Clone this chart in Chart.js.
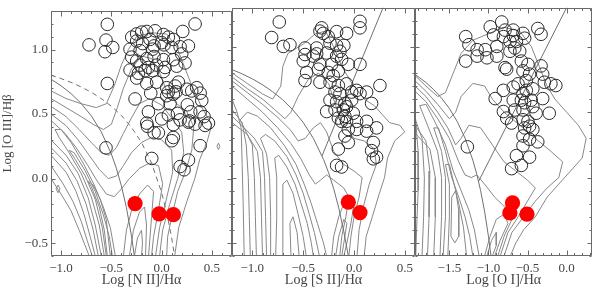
<!DOCTYPE html>
<html><head><meta charset="utf-8">
<script src="https://cdn.jsdelivr.net/npm/chart.js@4"></script>
<style>
html,body{margin:0;padding:0;background:#fff;}
#wrap{position:relative;width:600px;height:289px;overflow:hidden;}
canvas{position:absolute;left:0;top:0;}
</style></head><body>
<div id="wrap">
<canvas id="c1" width="600" height="289"></canvas>
<canvas id="c2" width="600" height="289"></canvas>
<canvas id="c3" width="600" height="289"></canvas>
</div>
<script>
// ---------- axis ranges / labels ----------
const yRange = [-0.6, 1.3];
const niiRange = [-1.1, 0.7];
const siiRange = [-1.2, 0.6];
const oiRange = [-1.94, 0.33];
const yTitle = 'Log [O III]/Hβ';
const xTitles = ['Log [N II]/Hα', 'Log [S II]/Hα', 'Log [O I]/Hα'];

// ---------- red filled points ----------
const niiRed = [[-0.264,-0.194],[-0.025,-0.273],[0.117,-0.28]];
const siiRed = [[-0.056,-0.188],[0.059,-0.268]];
const oiRed = [[-0.692,-0.194],[-0.726,-0.271],[-0.507,-0.28]];

// ---------- open circles ----------
const niiOpen = [[-0.54,1.195],[0.333,1.198],[-0.722,1.036],[-0.553,1.073],[-0.563,0.983],[-0.486,1.016],[0.21,1.14],[-0.297,1.096],[-0.248,1.121],[-0.198,1.135],[-0.148,1.14],[-0.065,1.145],[0.018,1.116],[0.067,1.096],[0.117,1.078],[-0.248,1.066],[-0.188,1.046],[-0.115,1.078],[-0.075,1.028],[0.001,1.053],[-0.314,1.003],[-0.214,0.991],[-0.088,1.003],[0.024,1.036],[0.101,1.016],[0.184,1.021],[0.267,1.028],[-0.297,0.941],[-0.248,0.911],[-0.148,0.929],[-0.075,0.946],[0.018,0.921],[0.117,0.921],[0.2,0.966],[-0.314,0.841],[-0.214,0.879],[-0.131,0.861],[-0.049,0.879],[0.034,0.861],[0.15,0.871],[0.233,0.896],[-0.231,0.816],[-0.165,0.836],[-0.088,0.836],[0.018,0.829],[-0.248,0.779],[-0.148,0.737],[-0.049,0.747],[0.051,0.704],[0.134,0.717],[0.167,0.747],[0.067,0.672],[0.144,0.672],[-0.54,0.737],[-0.264,0.617],[-0.108,0.662],[0.051,0.642],[0.117,0.654],[0.25,0.692],[0.349,0.704],[0.383,0.662],[0.399,0.604],[-0.131,0.517],[-0.032,0.58],[0.084,0.58],[0.157,0.505],[0.256,0.572],[0.29,0.517],[0.383,0.517],[0.333,0.422],[0.276,0.447],[0.422,0.48],[-0.148,0.43],[-0.141,0.405],[-0.075,0.355],[0.001,0.462],[0.117,0.418],[0.184,0.455],[0.267,0.437],[0.432,0.412],[0.466,0.43],[-0.553,0.238],[-0.098,0.156],[0.117,0.318],[0.101,0.293],[0.383,0.255],[0.267,0.143],[0.184,0.093],[0.223,0.068],[-0.032,0.355],[0.067,0.492],[0.3,0.679]];
const siiOpen = [[-0.735,1.19],[0.059,1.195],[0.059,1.145],[-0.81,1.071],[-0.695,1.003],[-0.63,1.016],[-0.318,1.145],[-0.335,1.12],[-0.302,1.103],[-0.253,1.078],[-0.171,1.116],[-0.073,1.103],[-0.236,1.028],[-0.171,1.011],[-0.1,1.011],[-0.482,0.991],[-0.367,0.991],[-0.482,0.941],[-0.367,0.946],[-0.269,0.953],[-0.171,0.929],[-0.122,0.904],[-0.499,0.891],[-0.335,0.866],[-0.22,0.866],[-0.154,0.816],[-0.056,0.866],[0.059,0.866],[-0.466,0.804],[-0.351,0.829],[-0.253,0.804],[-0.204,0.779],[-0.335,0.729],[-0.482,0.742],[-0.236,0.729],[-0.154,0.704],[-0.073,0.717],[0.026,0.667],[0.124,0.654],[-0.187,0.654],[-0.236,0.592],[-0.171,0.58],[-0.089,0.567],[-0.023,0.592],[0.059,0.642],[0.173,0.567],[0.255,0.704],[-0.269,0.505],[-0.187,0.517],[-0.105,0.517],[-0.073,0.542],[-0.089,0.467],[-0.122,0.43],[-0.073,0.43],[0.026,0.43],[0.124,0.43],[-0.056,0.368],[0.026,0.368],[0.124,0.355],[-0.089,0.318],[0.222,0.38],[-0.056,0.268],[0.19,0.268],[-0.154,0.218],[0.173,0.206],[0.222,0.156],[0.19,0.143],[-0.171,0.093],[-0.122,0.081],[-0.4,0.929],[-0.138,0.966],[-0.023,0.654],[-0.138,0.642],[-0.007,0.492],[-0.154,0.455]];
const oiOpen = [[-0.83,1.19],[-0.369,1.14],[-0.327,1.096],[-0.977,1.153],[-0.935,1.091],[-0.788,1.128],[-0.683,1.128],[-0.558,1.103],[-0.683,1.086],[-0.809,1.078],[-0.725,1.041],[-0.642,1.041],[-0.537,1.066],[-1.291,1.078],[-1.25,1.016],[-1.145,0.978],[-1.04,0.978],[-1.145,0.929],[-1.019,0.916],[-0.893,0.929],[-1.291,0.891],[-0.725,0.966],[-0.6,0.966],[-0.579,0.891],[-0.495,0.866],[-0.558,0.816],[-0.474,0.791],[-0.788,0.841],[-0.767,0.829],[-0.327,0.854],[-0.306,0.791],[-0.285,0.729],[-0.201,0.717],[-0.138,0.704],[-0.516,0.742],[-0.432,0.679],[-0.683,0.692],[-0.558,0.642],[-0.809,0.667],[-0.914,0.604],[-0.683,0.592],[-0.579,0.592],[-0.537,0.572],[-0.453,0.592],[-0.306,0.604],[-0.809,0.505],[-0.663,0.517],[-0.558,0.517],[-0.432,0.542],[-0.767,0.455],[-0.558,0.442],[-0.495,0.43],[-0.474,0.393],[-0.537,0.38],[-0.432,0.368],[-0.558,0.318],[-0.474,0.293],[-0.369,0.273],[-1.27,0.235],[-0.558,0.243],[-0.642,0.168],[-0.474,0.156],[-0.704,0.068],[-0.579,0.093],[-0.39,0.492],[-0.222,0.492],[-0.893,1.003],[-0.663,0.991],[-0.621,0.717],[-0.516,0.667],[-0.704,0.417]];

// ---------- demarcation lines ----------
const niiKauffmann = [[-1.1,0.77],[-1.0,0.719],[-0.9,0.658],[-0.8,0.582],[-0.7,0.487],[-0.6,0.362],[-0.5,0.191],[-0.45,0.08],[-0.4,-0.056],[-0.35,-0.225],[-0.3,-0.443],[-0.271,-0.6]];
const niiKewley = [[-1.1,0.801],[-1.0,0.775],[-0.9,0.745],[-0.8,0.71],[-0.7,0.669],[-0.6,0.62],[-0.5,0.561],[-0.4,0.489],[-0.3,0.398],[-0.2,0.28],[-0.1,0.12],[0.0,-0.108],[0.05,-0.262],[0.1,-0.459],[0.129,-0.6]];
const siiKewley = [[-1.2,0.826],[-1.1,0.793],[-1.0,0.755],[-0.9,0.71],[-0.8,0.657],[-0.7,0.594],[-0.6,0.517],[-0.5,0.422],[-0.4,0.3],[-0.3,0.139],[-0.25,0.037],[-0.2,-0.085],[-0.15,-0.232],[-0.1,-0.414],[-0.056,-0.6]];
const siiSeyLin = [[-0.315,0.165],[0.286,1.3]];
const oiKewley = [[-1.94,0.789],[-1.8,0.727],[-1.7,0.672],[-1.6,0.607],[-1.5,0.528],[-1.4,0.429],[-1.3,0.302],[-1.2,0.133],[-1.15,0.026],[-1.1,-0.101],[-1.05,-0.257],[-1.0,-0.45],[-0.968,-0.6]];
const oiSeyLin = [[-1.127,-0.03],[0.0,1.3]];

// ---------- density contours (traced by eye) ----------
const niiContours = [
 [[-1.1,0.0],[-1.0,-0.12],[-0.9,-0.25],[-0.82,-0.4],[-0.76,-0.52],[-0.72,-0.6]],
 [[-1.1,0.68],[-0.95,0.62],[-0.8,0.58],[-0.65,0.55],[-0.55,0.58],[-0.47,0.72],[-0.4,0.88],[-0.33,1.0],[-0.25,1.1],[-0.1,1.13],[0.05,1.12],[0.15,1.02],[0.22,0.88],[0.3,0.72],[0.4,0.55],[0.5,0.42],[0.45,0.28],[0.38,0.15],[0.33,0.0],[0.25,-0.18],[0.17,-0.38],[0.13,-0.6]],
 [[-1.1,0.1],[-0.98,-0.04],[-0.88,-0.18],[-0.8,-0.33],[-0.74,-0.48],[-0.69,-0.6]],
 [[-1.1,0.62],[-0.95,0.55],[-0.8,0.48],[-0.68,0.42],[-0.58,0.38],[-0.5,0.42],[-0.44,0.55],[-0.38,0.7],[-0.3,0.85],[-0.2,0.95],[-0.1,0.93],[-0.02,0.82],[0.05,0.68],[0.15,0.58],[0.25,0.52],[0.32,0.4],[0.3,0.22],[0.24,0.06],[0.16,-0.1],[0.1,-0.3],[0.06,-0.45],[0.05,-0.6]],
 [[-1.1,0.18],[-0.95,0.05],[-0.85,-0.1],[-0.77,-0.28],[-0.71,-0.45],[-0.66,-0.6]],
 [[-1.1,0.56],[-0.95,0.48],[-0.82,0.38],[-0.7,0.28],[-0.6,0.2],[-0.52,0.18],[-0.45,0.24],[-0.38,0.35],[-0.3,0.47],[-0.22,0.58],[-0.12,0.62],[0.0,0.57],[0.1,0.47],[0.2,0.36],[0.22,0.2],[0.16,0.0],[0.08,-0.2],[0.01,-0.4],[-0.02,-0.6]],
 [[-1.1,0.24],[-0.95,0.12],[-0.84,-0.02],[-0.75,-0.2],[-0.68,-0.4],[-0.63,-0.6]],
 [[-1.1,0.5],[-0.95,0.41],[-0.83,0.3],[-0.72,0.18],[-0.62,0.07],[-0.53,0.0],[-0.45,0.02],[-0.38,0.1],[-0.3,0.2],[-0.2,0.28],[-0.1,0.32],[0.0,0.3],[0.1,0.22],[0.11,0.05],[0.05,-0.15],[-0.02,-0.38],[-0.06,-0.6]],
 [[-1.1,0.3],[-0.95,0.18],[-0.83,0.04],[-0.73,-0.15],[-0.66,-0.36],[-0.6,-0.6]],
 [[-1.1,0.45],[-0.96,0.35],[-0.85,0.24],[-0.74,0.11],[-0.64,-0.02],[-0.55,-0.12],[-0.47,-0.14],[-0.4,-0.08],[-0.32,0.0],[-0.22,0.08],[-0.12,0.12],[-0.03,0.1],[0.01,-0.04],[-0.03,-0.24],[-0.08,-0.45],[-0.1,-0.6]],
 [[-0.57,-0.6],[-0.62,-0.36],[-0.7,-0.14],[-0.8,0.04],[-0.92,0.2],[-1.02,0.32],[-1.06,0.38],[-1.0,0.38],[-0.9,0.28],[-0.78,0.12],[-0.67,-0.05],[-0.58,-0.22],[-0.51,-0.38],[-0.46,-0.6]],
 [[-0.38,-0.6],[-0.35,-0.4],[-0.3,-0.25],[-0.22,-0.12],[-0.14,-0.05],[-0.08,-0.1],[-0.1,-0.3],[-0.13,-0.6]],
 [[-0.55,-0.6],[-0.59,-0.38],[-0.66,-0.16],[-0.76,0.02],[-0.86,0.15],[-0.92,0.22],[-0.87,0.2],[-0.76,0.06],[-0.66,-0.1],[-0.58,-0.28],[-0.52,-0.45],[-0.49,-0.6]],
 [[-0.32,-0.6],[-0.28,-0.4],[-0.22,-0.26],[-0.17,-0.22],[-0.15,-0.36],[-0.16,-0.6]],
 [[-0.54,-0.6],[-0.57,-0.4],[-0.62,-0.22],[-0.7,-0.06],[-0.73,-0.02],[-0.68,-0.05],[-0.61,-0.16],[-0.55,-0.32],[-0.51,-0.6]],
 [[-0.27,-0.6],[-0.24,-0.46],[-0.2,-0.4],[-0.19,-0.5],[-0.2,-0.6]],
 [[-1.05,-0.08],[-1.03,-0.05],[-1.01,-0.08],[-1.03,-0.11],[-1.05,-0.08]],
 [[0.55,0.25],[0.565,0.275],[0.58,0.25],[0.565,0.225],[0.55,0.25]]
];
const siiContours = [
 [[-1.2,0.6],[-1.15,0.5],[-1.11,0.38],[-1.1,0.1],[-1.09,-0.2],[-1.08,-0.6]],
 [[-1.2,0.8],[-1.05,0.72],[-0.9,0.64],[-0.8,0.6],[-0.72,0.7],[-0.7,0.85],[-0.65,0.95],[-0.5,1.02],[-0.38,1.1],[-0.28,1.12],[-0.2,1.0],[-0.12,0.85],[-0.02,0.72],[0.1,0.6],[0.2,0.55],[0.28,0.48],[0.35,0.42],[0.45,0.4],[0.5,0.35],[0.4,0.28],[0.33,0.15],[0.3,0.0],[0.25,-0.12],[0.18,-0.3],[0.12,-0.45],[0.1,-0.6]],
 [[-1.2,0.52],[-1.1,0.42],[-1.06,0.25],[-1.04,0.0],[-1.03,-0.3],[-1.02,-0.6]],
 [[-1.2,0.77],[-1.05,0.68],[-0.9,0.6],[-0.78,0.52],[-0.68,0.45],[-0.62,0.5],[-0.55,0.62],[-0.45,0.75],[-0.35,0.8],[-0.25,0.72],[-0.18,0.55],[-0.1,0.4],[0.0,0.3],[0.1,0.28],[0.2,0.22],[0.22,0.1],[0.15,-0.05],[0.1,-0.2],[0.05,-0.4],[0.03,-0.6]],
 [[-1.2,0.47],[-1.08,0.38],[-1.0,0.25],[-0.98,0.0],[-0.97,-0.3],[-0.96,-0.6]],
 [[-1.2,0.74],[-1.05,0.65],[-0.9,0.56],[-0.75,0.46],[-0.62,0.36],[-0.55,0.28],[-0.48,0.3],[-0.4,0.38],[-0.33,0.42],[-0.27,0.35],[-0.2,0.2],[-0.1,0.1],[0.0,0.05],[0.08,0.0],[0.05,-0.15],[0.0,-0.3],[-0.03,-0.45],[-0.05,-0.6]],
 [[-1.2,0.42],[-1.05,0.33],[-0.95,0.2],[-0.92,0.0],[-0.91,-0.3],[-0.9,-0.6]],
 [[-1.2,0.7],[-1.05,0.6],[-0.9,0.5],[-0.75,0.38],[-0.62,0.26],[-0.52,0.14],[-0.44,0.02],[-0.38,-0.05],[-0.33,-0.02],[-0.27,0.02],[-0.2,-0.02],[-0.1,-0.08],[-0.05,-0.15],[-0.08,-0.3],[-0.12,-0.45],[-0.14,-0.6]],
 [[-0.86,-0.6],[-0.87,-0.3],[-0.88,0.0],[-0.9,0.2],[-0.98,0.3],[-1.08,0.38],[-1.12,0.44],[-1.05,0.5],[-0.95,0.47],[-0.82,0.38],[-0.68,0.24],[-0.57,0.1],[-0.49,-0.05],[-0.42,-0.2],[-0.36,-0.35],[-0.3,-0.5],[-0.27,-0.6]],
 [[-0.22,-0.6],[-0.2,-0.45],[-0.15,-0.3],[-0.1,-0.2],[-0.05,-0.15],[0.0,-0.2],[-0.03,-0.35],[-0.07,-0.5],[-0.1,-0.6]],
 [[-0.82,-0.6],[-0.82,-0.3],[-0.83,0.0],[-0.86,0.18],[-0.92,0.3],[-0.87,0.33],[-0.78,0.28],[-0.66,0.16],[-0.57,0.02],[-0.5,-0.12],[-0.44,-0.28],[-0.39,-0.42],[-0.34,-0.6]],
 [[-0.18,-0.6],[-0.15,-0.45],[-0.1,-0.32],[-0.07,-0.35],[-0.1,-0.5],[-0.12,-0.6]],
 [[-0.77,-0.6],[-0.76,-0.3],[-0.76,0.0],[-0.78,0.15],[-0.74,0.17],[-0.66,0.08],[-0.58,-0.05],[-0.52,-0.2],[-0.46,-0.35],[-0.42,-0.5],[-0.4,-0.6]],
 [[-0.7,-0.6],[-0.7,-0.3],[-0.7,-0.05],[-0.66,-0.02],[-0.6,-0.12],[-0.55,-0.28],[-0.5,-0.45],[-0.47,-0.6]],
 [[-0.62,-0.6],[-0.63,-0.35],[-0.6,-0.3],[-0.56,-0.42],[-0.54,-0.6]]
];
const oiContours = [
 [[-1.94,0.5],[-1.9,0.2],[-1.9,-0.1],[-1.92,-0.4],[-1.93,-0.6]],
 [[-1.94,0.78],[-1.8,0.7],[-1.65,0.62],[-1.55,0.65],[-1.45,0.8],[-1.35,0.95],[-1.2,1.05],[-1.0,1.1],[-0.8,1.15],[-0.6,1.12],[-0.45,1.0],[-0.35,0.85],[-0.25,0.7],[-0.15,0.6],[0.0,0.5],[0.15,0.4],[0.25,0.3],[0.2,0.15],[0.05,0.05],[-0.1,-0.05],[-0.25,-0.15],[-0.4,-0.3],[-0.55,-0.4],[-0.65,-0.5],[-0.72,-0.6]],
 [[-1.94,0.45],[-1.85,0.3],[-1.82,0.0],[-1.83,-0.3],[-1.85,-0.6]],
 [[-1.94,0.74],[-1.8,0.66],[-1.65,0.56],[-1.5,0.45],[-1.42,0.5],[-1.35,0.62],[-1.2,0.72],[-1.05,0.7],[-0.95,0.6],[-0.8,0.5],[-0.6,0.4],[-0.4,0.3],[-0.2,0.2],[-0.05,0.12],[-0.1,0.0],[-0.25,-0.08],[-0.4,-0.18],[-0.55,-0.3],[-0.7,-0.42],[-0.8,-0.6]],
 [[-1.94,0.4],[-1.8,0.28],[-1.75,0.05],[-1.76,-0.3],[-1.78,-0.6]],
 [[-1.94,0.7],[-1.8,0.62],[-1.65,0.5],[-1.52,0.38],[-1.42,0.25],[-1.35,0.3],[-1.25,0.4],[-1.1,0.38],[-0.95,0.25],[-0.8,0.12],[-0.65,0.05],[-0.5,-0.02],[-0.4,-0.08],[-0.5,-0.18],[-0.62,-0.3],[-0.75,-0.42],[-0.85,-0.6]],
 [[-1.94,0.34],[-1.75,0.22],[-1.68,0.0],[-1.68,-0.3],[-1.7,-0.6]],
 [[-1.94,0.66],[-1.8,0.58],[-1.65,0.45],[-1.5,0.3],[-1.38,0.12],[-1.3,0.02],[-1.22,0.0],[-1.15,0.02],[-1.05,-0.05],[-0.92,-0.15],[-0.8,-0.22],[-0.7,-0.2],[-0.62,-0.2],[-0.7,-0.32],[-0.8,-0.45],[-0.88,-0.6]],
 [[-1.62,-0.6],[-1.6,-0.3],[-1.6,0.0],[-1.65,0.2],[-1.78,0.4],[-1.88,0.55],[-1.8,0.56],[-1.68,0.42],[-1.55,0.25],[-1.45,0.05],[-1.35,-0.1],[-1.25,-0.25],[-1.18,-0.4],[-1.12,-0.6]],
 [[-1.05,-0.6],[-0.98,-0.45],[-0.9,-0.32],[-0.8,-0.28],[-0.75,-0.35],[-0.85,-0.48],[-0.92,-0.6]],
 [[-1.58,-0.6],[-1.55,-0.3],[-1.55,0.0],[-1.6,0.2],[-1.7,0.38],[-1.64,0.38],[-1.55,0.2],[-1.47,0.0],[-1.38,-0.15],[-1.3,-0.3],[-1.24,-0.45],[-1.2,-0.6]],
 [[-1.02,-0.6],[-0.96,-0.48],[-0.9,-0.42],[-0.9,-0.52],[-0.95,-0.6]],
 [[-1.52,-0.6],[-1.5,-0.3],[-1.5,-0.05],[-1.55,0.1],[-1.5,0.1],[-1.44,-0.05],[-1.38,-0.2],[-1.32,-0.38],[-1.28,-0.6]],
 [[-1.48,-0.45],[-1.47,-0.15],[-1.42,-0.1],[-1.38,-0.25],[-1.38,-0.45],[-1.43,-0.5],[-1.48,-0.45]]
];

// ---------- helpers ----------
const SERIF = '"Liberation Serif","DejaVu Serif","Times New Roman",serif';
const TXT = '#444';
const toXY = pts => pts.map(p => ({x: p[0], y: p[1]}));
const fmt = v => (v < -1e-9 ? '\u2212' : '') + Math.abs(v).toFixed(1);

function lineSet(pts, extra) {
  return Object.assign({data: toXY(pts), showLine: true, pointRadius: 0, borderColor: '#888',
    backgroundColor: 'transparent', borderWidth: 1, tension: 0, fill: false, order: 3}, extra || {});
}

const idlFrame = {
  id: 'idlFrame',
  afterDatasetsDraw(chart) {
    const {ctx, chartArea: a, scales: {x, y}} = chart;
    const L = Math.round(a.left) + 0.5, R = Math.round(a.right) - 0.5;
    const T = Math.round(a.top) + 0.5, B = Math.round(a.bottom) - 0.5;
    ctx.save();
    ctx.strokeStyle = '#6a6a6a';
    ctx.lineWidth = 1;
    ctx.beginPath();
    ctx.rect(L, T, R - L, B - T);
    const k0 = Math.ceil(x.min * 10 - 1e-6), k1 = Math.floor(x.max * 10 + 1e-6);
    for (let k = k0; k <= k1; k++) {
      const len = (k % 5 === 0) ? 5 : 2.5;
      const px = Math.round(x.getPixelForValue(k / 10)) + 0.5;
      ctx.moveTo(px, B); ctx.lineTo(px, B - len);
      ctx.moveTo(px, T); ctx.lineTo(px, T + len);
    }
    const j0 = Math.ceil(y.min * 10 - 1e-6), j1 = Math.floor(y.max * 10 + 1e-6);
    for (let j = j0; j <= j1; j++) {
      const len = (j % 5 === 0) ? 4 : 2;
      const py = Math.round(y.getPixelForValue(j / 10)) + 0.5;
      ctx.moveTo(L, py); ctx.lineTo(L + len, py);
      ctx.moveTo(R, py); ctx.lineTo(R - len, py);
    }
    ctx.stroke();
    ctx.restore();
  }
};

function makePanel(id, p) {
  const datasets = [
    {data: toXY(p.red), pointRadius: 7.6, pointBackgroundColor: '#ff0000', pointBorderColor: '#ff0000',
     pointBorderWidth: 0, showLine: false, order: 0},
    {data: toXY(p.open), pointRadius: 6.3, pointBackgroundColor: 'rgba(0,0,0,0)', pointBorderColor: '#2a2a2a',
     pointBorderWidth: 1, showLine: false, order: 1}
  ];
  p.lines.forEach(l => datasets.push(lineSet(l.pts, {borderColor: '#707070', borderDash: l.dash || [], order: 2})));
  p.contours.forEach(c => datasets.push(lineSet(c)));
  const yAxis = {type: 'linear', position: 'left', min: yRange[0], max: yRange[1], display: p.showY,
      ticks: {stepSize: 0.5, includeBounds: false, autoSkip: false, padding: 3,
              color: TXT, font: {family: SERIF, size: 13}, callback: fmt},
      grid: {display: false, drawTicks: false}, border: {display: false},
      title: {display: true, text: yTitle, color: TXT, font: {family: SERIF, size: 13}, padding: {top: 0, bottom: 0}}};
  if (p.showY) yAxis.afterFit = s => { s.width = 51; };
  new Chart(document.getElementById(id), {
    type: 'scatter',
    data: {datasets},
    options: {
      responsive: false, animation: false, events: [],
      layout: {padding: {left: p.padL, right: p.padR, top: 2, bottom: 0}},
      plugins: {legend: {display: false}, tooltip: {enabled: false}},
      scales: {
        x: {type: 'linear', position: 'bottom', min: p.xr[0], max: p.xr[1],
            ticks: {stepSize: 0.5, includeBounds: false, autoSkip: false, maxRotation: 0, padding: 5,
                    color: TXT, font: {family: SERIF, size: 13}, callback: fmt},
            grid: {display: false, drawTicks: false}, border: {display: false},
            title: {display: true, text: p.xTitle, color: TXT, font: {family: SERIF, size: 14}, padding: {top: 0, bottom: 0}},
            afterFit: s => { s.height = 33; }},
        y: yAxis
      }
    },
    plugins: [idlFrame]
  });
}

makePanel('c1', {xr: niiRange, xTitle: xTitles[0], showY: true, padL: 0, padR: 368,
  red: niiRed, open: niiOpen, contours: niiContours,
  lines: [{pts: niiKauffmann}, {pts: niiKewley, dash: [5, 4]}]});
makePanel('c2', {xr: siiRange, xTitle: xTitles[1], showY: false, padL: 232, padR: 185,
  red: siiRed, open: siiOpen, contours: siiContours,
  lines: [{pts: siiKewley}, {pts: siiSeyLin}]});
makePanel('c3', {xr: oiRange, xTitle: xTitles[2], showY: false, padL: 415, padR: 3,
  red: oiRed, open: oiOpen, contours: oiContours,
  lines: [{pts: oiKewley}, {pts: oiSeyLin}]});
</script>
</body></html>
